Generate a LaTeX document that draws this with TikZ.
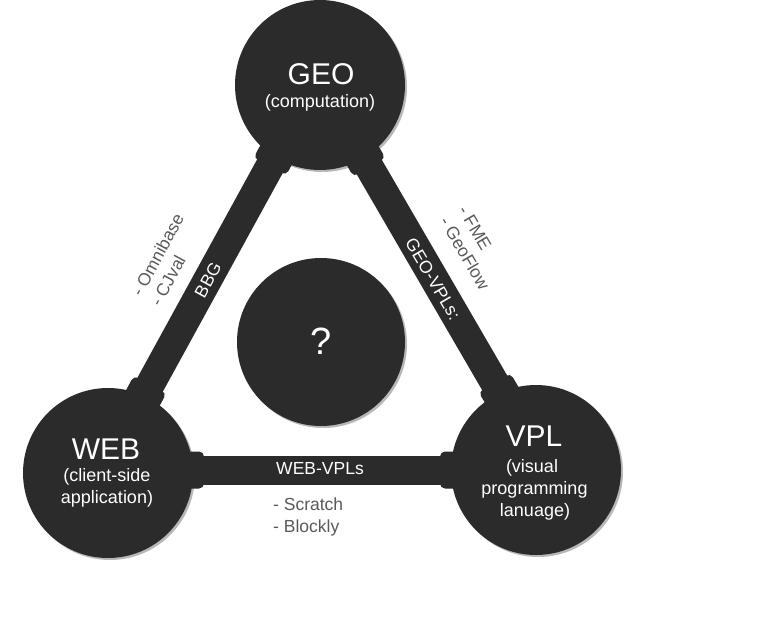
\documentclass[tikz,border=0pt]{standalone}
\usepackage{fontspec}
\setmainfont{Liberation Sans}
\usetikzlibrary{calc}
\definecolor{dk}{HTML}{2B2B2B}
\definecolor{gtxt}{HTML}{5A5A5A}
\definecolor{shd}{HTML}{B8B8B8}
\begin{document}
\begin{tikzpicture}[x=1pt,y=-1pt,
  hub/.style={circle, fill=dk, minimum size=170pt, inner sep=0pt},
  hubshadow/.style={circle, fill=shd, minimum size=170pt, inner sep=0pt},
  bar/.style={line width=29pt, draw=dk},
  blob/.style={rectangle, fill=dk, minimum width=22pt, minimum height=37pt, rounded corners=5pt, inner sep=0pt},
  big/.style={text=white, font=\fontsize{30}{36}\selectfont, anchor=base, inner sep=0pt},
  sub/.style={text=white, font=\fontsize{18}{21.6}\selectfont, anchor=base, inner sep=0pt},
  elab/.style={text=white, font=\fontsize{17.5}{21}\selectfont, inner sep=0pt},
  ext/.style={text=gtxt, font=\fontsize{17.5}{21.5}\selectfont, align=left, inner sep=0pt},
]
\fill[white] (0,0) rectangle (770,631);
\useasboundingbox (0,0) rectangle (770,631);

% shadows
\node[hubshadow] (geosh) at (322,87) {};
\node[hubshadow] (websh) at (110,475) {};
\node[hubshadow] (vplsh) at (538,472) {};
\node[hubshadow, minimum size=168pt] (qsh) at (323,344) {};

% circles
\node[hub] (geo) at (320,85) {};
\node[hub] (web) at (108,473) {};
\node[hub] (vpl) at (536,470) {};
\node[hub, minimum size=168pt] (q) at (321,342) {};

% bar ends
\coordinate (gwA) at (275,157);
\coordinate (gwB) at (145,394);
\coordinate (gvA) at (364,158);
\coordinate (gvB) at (500,392);
\coordinate (wvA) at (193,470);
\coordinate (wvB) at (451,470);

% bars
\draw[bar] (gwA) -- (gwB);
\draw[bar] (gvA) -- (gvB);
\draw[bar] (wvA) -- (wvB);
\node[blob, rotate=61.5] (gwAb) at (gwA) {};
\node[blob, rotate=61.5] (gwBb) at (gwB) {};
\node[blob, rotate=-59.6] (gvAb) at (gvA) {};
\node[blob, rotate=-59.6] (gvBb) at (gvB) {};
\node[blob] (wvAb) at (wvA) {};
\node[blob] (wvBb) at (wvB) {};

% circle texts
\node[big] (geot) at (321,85) {GEO};
\node[sub] (geos) at (320,108) {(computation)};
\node[big] (webt) at (106,459) {WEB};
\node[sub] (webs1) at (107,481) {(client-side};
\node[sub] (webs2) at (107,503) {application)};
\node[big] (vplt) at (534,446) {VPL};
\node[sub] (vpls1) at (532,472) {(visual};
\node[sub] (vpls2) at (534.5,494) {programming};
\node[sub] (vpls3) at (535,516) {lanuage)};
\node[text=white, font=\fontsize{38}{40}\selectfont, inner sep=0pt] (qt) at (321,341) {?};

% edge labels
\node[elab, rotate=61.5] (bbg) at (208,280) {BBG};
\node[elab, rotate=-59.6] (geovpl) at (433,279) {GEO-VPLs:};
\node[elab] (webvpl) at (320,469) {WEB-VPLs};

% external lists
\node[ext, rotate=61.5] (omni) at (167,260) {- Omnibase\\- CJval};
\node[ext, rotate=-59.6] (fme) at (474,248) {- FME\\- GeoFlow};
\node[ext, anchor=west] (scratch) at (273,517) {- Scratch\\- Blockly};
\end{tikzpicture}
\end{document}
